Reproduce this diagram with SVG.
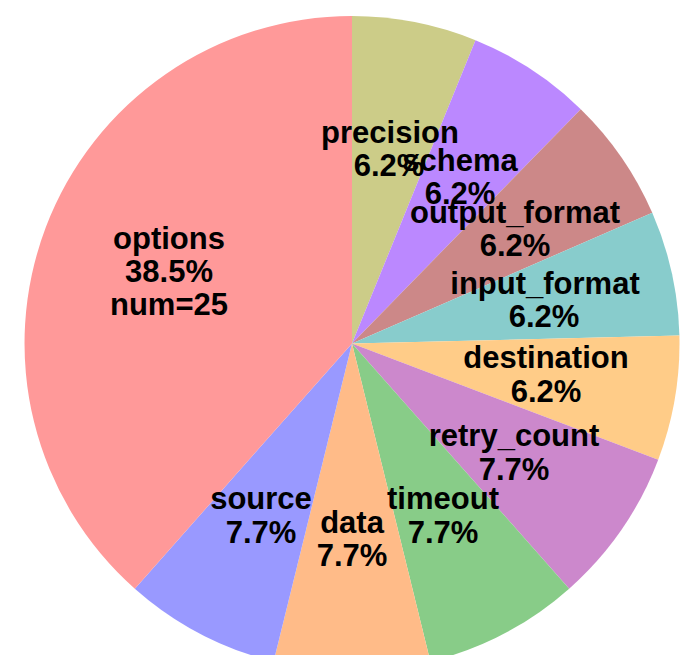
<svg xmlns="http://www.w3.org/2000/svg" width="680" height="655" viewBox="0 0 680 655">
<style>
.lbl{font-family:"Liberation Sans",Arial,Helvetica,sans-serif;font-weight:bold;font-size:31px;fill:#000;text-anchor:middle}
.sl{stroke:none}
</style>
<rect width="680" height="655" fill="#ffffff"/>
<g id="slices">
<g id="slice-precision"><path class="sl" fill="#CCCC88" d="M352,343.5 L352,16 A327.5,327.5 0 0 1 475.50,40.18 Z"/></g>
<g id="slice-schema"><path class="sl" fill="#BB88FF" d="M352,343.5 L475.50,40.18 A327.5,327.5 0 0 1 580.76,109.14 Z"/></g>
<g id="slice-output_format"><path class="sl" fill="#CC8888" d="M352,343.5 L580.76,109.14 A327.5,327.5 0 0 1 652.25,212.71 Z"/></g>
<g id="slice-input_format"><path class="sl" fill="#88CCCC" d="M352,343.5 L652.25,212.71 A327.5,327.5 0 0 1 679.41,335.59 Z"/></g>
<g id="slice-destination"><path class="sl" fill="#FFCC88" d="M352,343.5 L679.41,335.59 A327.5,327.5 0 0 1 658.21,459.63 Z"/></g>
<g id="slice-retry_count"><path class="sl" fill="#CC88CC" d="M352,343.5 L658.21,459.63 A327.5,327.5 0 0 1 569.16,588.63 Z"/></g>
<g id="slice-timeout"><path class="sl" fill="#88CC88" d="M352,343.5 L569.16,588.63 A327.5,327.5 0 0 1 430.37,661.48 Z"/></g>
<g id="slice-data"><path class="sl" fill="#FFBB88" d="M352,343.5 L430.37,661.48 A327.5,327.5 0 0 1 273.63,661.48 Z"/></g>
<g id="slice-source"><path class="sl" fill="#9999FF" d="M352,343.5 L273.63,661.48 A327.5,327.5 0 0 1 134.84,588.63 Z"/></g>
<g id="slice-options"><path class="sl" fill="#FF9999" d="M352,343.5 L134.84,588.63 A327.5,327.5 0 0 1 352,16 Z"/></g>
</g>
<g id="labels">
<g id="label-options"><text class="lbl" x="169" y="249">options</text><text class="lbl" x="169" y="282">38.5%</text><text class="lbl" x="169" y="315">num=25</text></g>
<g id="label-precision"><text class="lbl" x="390" y="143">precision</text><text class="lbl" x="389" y="176">6.2%</text></g>
<g id="label-schema"><text class="lbl" x="460" y="171">schema</text><text class="lbl" x="460" y="204">6.2%</text></g>
<g id="label-output_format"><text class="lbl" x="515" y="223">output_format</text><text class="lbl" x="515" y="256">6.2%</text></g>
<g id="label-input_format"><text class="lbl" x="545" y="294">input_format</text><text class="lbl" x="544" y="327">6.2%</text></g>
<g id="label-destination"><text class="lbl" x="546" y="368">destination</text><text class="lbl" x="546" y="402">6.2%</text></g>
<g id="label-retry_count"><text class="lbl" x="514" y="446">retry_count</text><text class="lbl" x="514" y="480">7.7%</text></g>
<g id="label-timeout"><text class="lbl" x="443" y="509">timeout</text><text class="lbl" x="443" y="543">7.7%</text></g>
<g id="label-data"><text class="lbl" x="352" y="533">data</text><text class="lbl" x="352" y="566">7.7%</text></g>
<g id="label-source"><text class="lbl" x="261" y="509">source</text><text class="lbl" x="261" y="543">7.7%</text></g>
</g>
</svg>
